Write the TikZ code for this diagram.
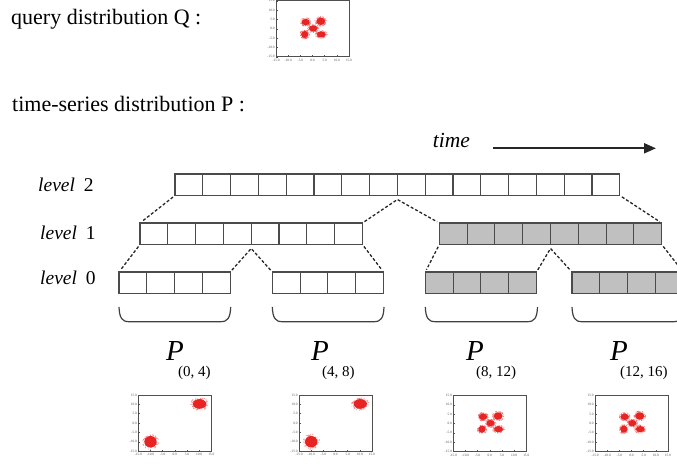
\documentclass[tikz,border=0pt]{standalone}
\usepackage{fontspec}
\setmainfont{Liberation Serif}
\usetikzlibrary{arrows.meta,calc}
\definecolor{boxc}{RGB}{75,75,75}
\definecolor{grayfill}{RGB}{192,192,192}
\definecolor{dotred}{RGB}{232,35,35}
\definecolor{axc}{RGB}{80,80,80}
\tikzset{
  rowbox/.style={draw=boxc, line width=1.1pt, minimum height=21.5pt, inner sep=0pt, outer sep=0pt, anchor=north west},
  cellline/.style={draw=boxc, line width=1.1pt},
  conn/.style={draw=black!85, line width=1.3pt, dash pattern=on 3pt off 2pt, shorten <=2.5pt, shorten >=2.5pt},
  bracec/.style={draw=black!75, line width=1.2pt},
  maintext/.style={font=\fontsize{22}{24}\selectfont, anchor=base west, inner sep=0pt},
  levtext/.style={font=\fontsize{19.5}{22}\selectfont, anchor=base west, inner sep=0pt},
  plab/.style={font=\fontsize{29}{30}\selectfont\itshape, anchor=base west, inner sep=0pt},
  slab/.style={font=\fontsize{15}{16}\selectfont, anchor=base west, inner sep=0pt},
  pframe/.style={draw=axc, line width=1pt, minimum width=73pt, minimum height=56pt, inner sep=0pt, outer sep=0pt, anchor=north west},
  tick/.style={font=\fontsize{3.4}{3.6}\selectfont, text=axc, inner sep=0.3pt}
}
\newcommand{\cellrow}[5]{%
  \node[rowbox, fill=#5, minimum width={#4*27.8pt}] (#1) at (#2,#3) {};
  \pgfmathtruncatemacro{\nm}{#4-1}
  \foreach \k in {1,...,\nm} \draw[cellline] ($(#1.north west)+(\k*27.8,0)$) -- ($(#1.south west)+(\k*27.8,0)$);
}
% blob: data cx, data cy, radius x px, radius y px
\newcommand{\blob}[4]{%
  \pgfmathsetmacro{\bx}{#1*2.43}\pgfmathsetmacro{\by}{-#2*1.87}%
  \foreach \n in {1,...,110}{%
    \pgfmathsetmacro{\ang}{rnd*360}%
    \pgfmathsetmacro{\rr}{0.55+0.65*rnd}%
    \fill[dotred!75] ({\bx+#3*\rr*cos(\ang)},{\by+#4*\rr*sin(\ang)}) circle (0.38pt);
  }
  \fill[dotred] (\bx,\by) ellipse ({#3*0.88pt} and {#4*0.88pt});
}
\newcommand{\plotframe}[3]{% name, x, y (top-left)
  \node[pframe] (#1) at (#2,#3) {};
  \foreach \v/\lab in {-15/-15.0,-10/-10.0,-5/-5.0,0/0.0,5/5.0,10/10.0,15/15.0}{%
    \node[tick, anchor=east] at ($(#1.west)+(-1,{-\v*1.87})$) {\lab};
    \node[tick, anchor=north] at ($(#1.south)+({\v*2.43},2)$) {\lab};
    \draw[axc, line width=0.4pt] ($(#1.west)+(0,{-\v*1.87})$) -- ++(1.5,0);
    \draw[axc, line width=0.4pt] ($(#1.south)+({\v*2.43},0)$) -- ++(0,-1.5);
  }
}
\newcommand{\twoclusters}[1]{%
  \begin{scope}[shift={(#1.center)}]
    \blob{-10}{-10}{7}{6.5}
    \blob{10.2}{10.2}{7.5}{5.5}
  \end{scope}
}
\newcommand{\fiveclusters}[1]{%
  \begin{scope}[shift={(#1.center)}]
    \blob{-2.8}{3.6}{4.6}{3.6}
    \blob{3.4}{4.0}{5}{4.2}
    \blob{0.3}{0.2}{4.6}{3.6}
    \blob{-3.2}{-3.0}{4}{4}
    \blob{3.6}{-3.0}{5}{3.5}
  \end{scope}
}
\begin{document}
\begin{tikzpicture}[x=1pt,y=-1pt]
\pgfmathsetseed{7}
\useasboundingbox (0,0) rectangle (677,464);
% titles
\node[maintext] (qtext) at (11,24) {query distribution Q :};
\node[maintext] (ptext) at (12,111) {time-series distribution P :};
% query plot
\plotframe{qplot}{276}{0.8}
\fiveclusters{qplot}
% time arrow
\node[maintext, font=\fontsize{21.5}{24}\selectfont\itshape] (time) at (432.7,147.7) {time};
\coordinate (ta) at (493,148.3);
\coordinate (tb) at (656,148.3);
\draw[line width=2pt, black!85, -{Triangle[length=12pt,width=10pt]}] (ta) -- (tb);
% level labels
\node[levtext] (lv2) at (38,191.7) {\textit{level}\hspace{0.45em}2};
\node[levtext] (lv1) at (40,239) {\textit{level}\hspace{0.45em}1};
\node[levtext] (lv0) at (40,284) {\textit{level}\hspace{0.45em}0};
% rows
\cellrow{L2}{175}{174}{16}{white}
\cellrow{L1a}{140}{223}{8}{white}
\cellrow{L1b}{439.3}{223}{8}{grayfill}
\cellrow{L0a}{119}{272}{4}{white}
\cellrow{L0b}{272.3}{272}{4}{white}
\cellrow{L0c}{425.3}{272}{4}{grayfill}
\cellrow{L0d}{572}{272}{4}{grayfill}
% connectors
\coordinate (ap2) at (397.4,199.5);
\coordinate (ap1a) at (251.2,248.5);
\coordinate (ap1b) at (550.5,248.5);
\draw[conn] (L2.south west) -- (L1a.north west);
\draw[conn] (L1a.north east) -- (ap2) -- (L1b.north west);
\draw[conn] (L2.south east) -- (L1b.north east);
\draw[conn] (L1a.south west) -- (L0a.north west);
\draw[conn] (L0a.north east) -- (ap1a) -- (L0b.north west);
\draw[conn] (L1a.south east) -- (L0b.north east);
\draw[conn] (L1b.south west) -- (L0c.north west);
\draw[conn] (L0c.north east) -- (ap1b) -- (L0d.north west);
\draw[conn] (L1b.south east) -- (L0d.north east);
% braces
\foreach \xa/\xb in {119/230.7, 272.3/384, 425.3/537.5, 572/683.5}{
  \draw[bracec] (\xa,307) .. controls (\xa+0.5,318) and (\xa+3,321.7) .. (\xa+10,321.7) -- (\xb-10,321.7) .. controls (\xb-3,321.7) and (\xb-0.5,318) .. (\xb,307);
}
% P labels
\node[plab] (P0) at (166,360) {P};
\node[slab] (S0) at (178,376) {(0, 4)};
\node[plab] (P1) at (311,360) {P};
\node[slab] (S1) at (322,376) {(4, 8)};
\node[plab] (P2) at (466,360) {P};
\node[slab] (S2) at (476,376) {(8, 12)};
\node[plab] (P3) at (610,360) {P};
\node[slab] (S3) at (620,376) {(12, 16)};
% bottom plots
\plotframe{pl0}{138.3}{395}
\twoclusters{pl0}
\plotframe{pl1}{299}{395}
\twoclusters{pl1}
\plotframe{pl2}{453.3}{395.5}
\fiveclusters{pl2}
\plotframe{pl3}{595}{395.5}
\fiveclusters{pl3}
\end{tikzpicture}
\end{document}
